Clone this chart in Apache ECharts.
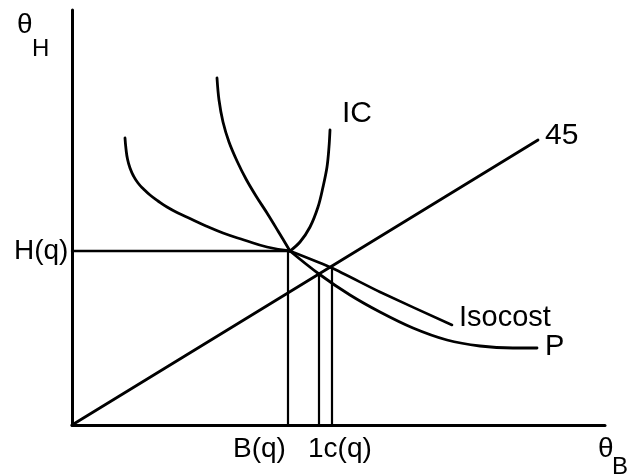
<!DOCTYPE html>
<html>
<head>
<meta charset="utf-8">
<script src="https://cdn.jsdelivr.net/npm/echarts@6/dist/echarts.min.js"></script>
<style>html,body{margin:0;padding:0;background:#fff}#c{width:627px;height:476px}</style>
</head>
<body>
<div id="c"></div>
<script>
// Schematic coordinates (units measured from the origin)
var xMax = 533, yMax = 415;
var hq = 174;                       // H(q) level
var leftCurve = [[53,287],[54,276],[55.5,266],[58,257],[61.5,249],[66,242],[71.5,236],[78,230],[86,224],[95,218],[106,212],[119,206],[134,199],[151,192],[172,185],[195,178],[218,174]];
var pCurveUpper = [[145,347],[147,325],[151,303],[157,283],[165,264],[174,246],[184,229],[195,212],[206,194],[218,174]];
var pCurveLower = [[218,174],[247,151],[278,130],[308,113],[341,97],[375,85],[408,79],[441,77],[465,77]];
var icCurve = [[218,174],[228,183],[238,198],[246,218],[251,238],[255,258],[257,278],[258,295]];
var isocost = [[218,174],[260,157],[308,133],[380,100]];
var line45 = [[0,0],[466,285]];
var dropX = [216, 247, 260];
var dropTop = [174, 151, 159];

var chart = echarts.init(document.getElementById('c'));
var black = '#000';
var series = [];
function addLine(data, w, smooth) {
  series.push({type:'line', data:data, showSymbol:false, smooth:smooth||false,
    lineStyle:{color:black, width:w, cap:'round', join:'round'}, silent:true, animation:false});
}
addLine(leftCurve, 2.8, 0.5);
addLine(pCurveUpper, 2.8, 0.35);
addLine(pCurveLower, 2.8, 0.35);
addLine(icCurve, 2.8, 0.35);
addLine(isocost, 2.6, 0.2);
addLine(line45, 2.8);
addLine([[0,hq],[218,hq]], 2.4);
for (var i = 0; i < dropX.length; i++) addLine([[dropX[i],0],[dropX[i],dropTop[i]]], 2.2);

var font = 'Liberation Sans, Arial, sans-serif';
function txt(s, x, y, size) {
  return {type:'text', x:x, y:y, silent:true,
    style:{text:s, fontSize:size, fontFamily:font, fill:black, align:'left', verticalAlign:'middle', textAlign:'left', textVerticalAlign:'middle'}};
}
chart.setOption({
  animation:false,
  backgroundColor:'#fff',
  grid:{left:72, right:22, top:10, bottom:51},
  xAxis:{type:'value', min:0, max:xMax, axisLine:{lineStyle:{color:black, width:3}}, axisTick:{show:false}, axisLabel:{show:false}, splitLine:{show:false}},
  yAxis:{type:'value', min:0, max:yMax, axisLine:{show:true, lineStyle:{color:black, width:3}}, axisTick:{show:false}, axisLabel:{show:false}, splitLine:{show:false}},
  series:series,
  graphic:[
    txt('θ', 17, 25, 28), txt('H', 32, 49, 24),
    txt('H(q)', 14, 251, 28),
    txt('IC', 342, 114, 30),
    txt('45', 545, 136, 30),
    txt('Isocost', 459, 318, 29),
    txt('P', 545, 347, 29),
    txt('B(q)', 233, 449, 28),
    txt('1c(q)', 308, 449, 28),
    txt('θ', 598, 449, 28), txt('B', 612, 467, 24)
  ]
});
</script>
</body>
</html>
